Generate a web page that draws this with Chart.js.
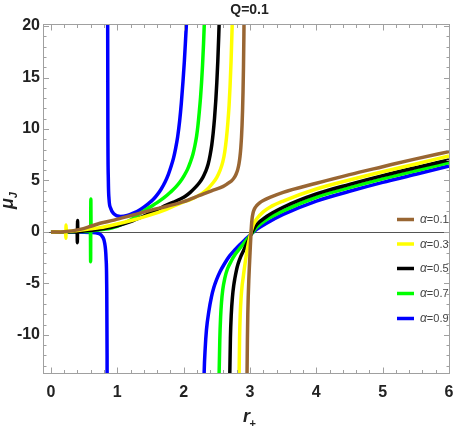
<!DOCTYPE html>
<html><head><meta charset="utf-8">
<script src="https://cdn.jsdelivr.net/npm/chart.js@4.4.0/dist/chart.umd.min.js"></script>
<style>html,body{margin:0;padding:0;background:#fff;}canvas{display:block;}</style>
</head><body>
<canvas id="c" width="459" height="432"></canvas>
<script>
// ---- data ----
const chartTitle = 'Q=0.1';
const seriesLabels = ['α=0.1', 'α=0.3', 'α=0.5', 'α=0.7', 'α=0.9'];
const seriesColors = ['#996633', '#ffff00', '#000000', '#00ff00', '#0000ff'];
const xTicks = [0, 1, 2, 3, 4, 5, 6];
const yTicks = [-10, -5, 0, 5, 10, 15, 20];

// alpha = 0.1
const r_a01  = [0, 0.2, 0.44, 0.6, 0.74, 0.95, 1.24, 1.5, 1.75, 2.0, 2.24, 2.42, 2.59, 2.66, 2.72, 2.76, 2.79, 2.815, 2.835, 2.85, 2.862, 2.872, 2.88, 2.888, 2.895, 2.902, 2.908, 2.912, 2.92,
                2.935,
                2.952, 2.956, 2.961, 2.967, 2.974, 2.982, 2.99, 2.998, 3.006, 3.014, 3.022, 3.032, 3.045, 3.065, 3.1, 3.15, 3.2, 3.3, 3.5, 4, 4.5, 5, 5.5, 6];
const mu_a01 = [0, 0.03, 0.25, 0.55, 0.84, 1.15, 1.65, 2.1, 2.5, 2.95, 3.55, 4.0, 4.4, 4.68, 4.95, 5.25, 5.6, 6.05, 6.65, 7.35, 8.2, 9.2, 10.3, 11.8, 13.6, 16, 19, 21.5, 27,
                null,
                -17, -13.7, -10.5, -8.0, -6.2, -4.7, -3.5, -2.4, -1.3, -0.3, 0.6, 1.3, 1.8, 2.2, 2.55, 2.85, 3.05, 3.35, 3.85, 4.73, 5.57, 6.34, 7.1, 7.8];
// alpha = 0.3
const r_a03  = [0, 0.15, 0.22, 0.225, 0.227, 0.232, 0.4, 0.6, 0.74, 0.95, 1.24, 1.5, 1.74, 1.99, 2.1, 2.2, 2.3, 2.38, 2.44, 2.5, 2.55, 2.59, 2.62, 2.645, 2.665, 2.685, 2.7, 2.715, 2.73, 2.74, 2.76,
                2.8,
                2.832, 2.836, 2.843, 2.853, 2.866, 2.88, 2.896, 2.912, 2.926, 2.94, 2.956, 2.975, 2.997, 3.02, 3.05, 3.1, 3.2, 3.3, 3.5, 4, 4.5, 5, 5.5, 6];
const mu_a03 = [0, 0.01, 0.02, -0.61, 0.68, 0.05, 0.15, 0.3, 0.42, 0.7, 1.16, 1.65, 2.2, 2.9, 3.15, 3.45, 3.85, 4.3, 4.75, 5.3, 6.0, 6.8, 7.8, 9.1, 10.5, 12.3, 14.2, 16.6, 19.7, 22, 28,
                null,
                -17, -13.7, -10.3, -8.0, -6.4, -5.3, -4.5, -3.7, -3.05, -2.45, -1.8, -1.15, -0.5, 0.1, 0.7, 1.25, 1.95, 2.4, 3.0, 4.17, 5.05, 5.85, 6.6, 7.38];
// alpha = 0.5
const r_a05  = [0, 0.2, 0.395, 0.398, 0.401, 0.405, 0.6, 0.8, 1.0, 1.2, 1.4, 1.6, 1.74, 1.85, 1.95, 2.02, 2.1, 2.18, 2.24, 2.29, 2.33, 2.37, 2.4, 2.425, 2.445, 2.465, 2.485, 2.5, 2.515, 2.53, 2.54, 2.56,
                2.62,
                2.69, 2.696, 2.705, 2.718, 2.736, 2.755, 2.771, 2.795, 2.821, 2.86, 2.907, 2.95, 2.98, 3.01, 3.05, 3.1, 3.25, 3.5, 4, 4.5, 5, 5.5, 6];
const mu_a05 = [0, 0.01, 0.03, -1.04, 1.1, 0.05, 0.15, 0.33, 0.6, 1.0, 1.55, 2.15, 2.6, 2.9, 3.2, 3.45, 3.85, 4.35, 4.8, 5.3, 5.85, 6.6, 7.5, 8.5, 9.6, 11, 12.8, 14.5, 16.6, 19.2, 21.2, 26,
                null,
                -17, -13.7, -10.3, -8.0, -6.3, -5.2, -4.55, -3.75, -3.1, -2.4, -1.75, -1.15, -0.75, -0.3, 0.2, 0.7, 1.5, 2.4, 3.69, 4.62, 5.47, 6.25, 7.0];
// alpha = 0.7
const r_a07  = [0, 0.3, 0.595, 0.598, 0.601, 0.605, 0.8, 1.0, 1.2, 1.3, 1.39, 1.5, 1.6, 1.7, 1.8, 1.88, 1.95, 2.01, 2.06, 2.1, 2.14, 2.17, 2.195, 2.215, 2.235, 2.255, 2.27, 2.285, 2.3, 2.315, 2.34,
                2.43,
                2.528, 2.535, 2.545, 2.557, 2.57, 2.59, 2.62, 2.66, 2.72, 2.78, 2.846, 2.92, 3.01, 3.1, 3.25, 3.5, 4, 4.5, 5, 5.5, 6];
const mu_a07 = [0, 0.02, 0.05, -2.9, 3.2, 0.12, 0.25, 0.55, 1.15, 1.6, 2.0, 2.45, 2.85, 3.3, 3.85, 4.35, 4.9, 5.5, 6.1, 6.75, 7.55, 8.4, 9.3, 10.3, 11.6, 13.1, 14.5, 16.2, 18.3, 20.8, 26,
                null,
                -17, -13.7, -10.5, -8.3, -6.9, -5.6, -4.5, -3.6, -2.8, -2.15, -1.6, -1.0, -0.3, 0.45, 1.2, 2.05, 3.37, 4.3, 5.15, 5.95, 6.73];
// alpha = 0.9
const r_a09  = [0, 0.3, 0.5, 0.6, 0.71, 0.78, 0.81, 0.83, 0.84, 0.846, 0.85,
                0.8515,
                0.853, 0.855, 0.858, 0.865, 0.875, 0.9, 0.95, 1.0, 1.05, 1.15, 1.25, 1.33, 1.4, 1.47, 1.54, 1.6, 1.66, 1.72, 1.77, 1.81, 1.85, 1.88, 1.91, 1.94, 1.965, 1.99, 2.01, 2.03, 2.045, 2.07,
                2.2,
                2.3, 2.309, 2.325, 2.344, 2.38, 2.42, 2.455, 2.495, 2.55, 2.62, 2.69, 2.771, 2.85, 2.922, 3.01, 3.1, 3.25, 3.5, 4, 4.5, 5, 5.5, 6];
const mu_a09 = [0, 0.0, -0.02, -0.05, -0.13, -0.5, -1.1, -2.5, -5, -12, -30,
                null,
                30, 20, 10, 5, 3.2, 2.3, 1.75, 1.55, 1.5, 1.6, 1.85, 2.1, 2.4, 2.75, 3.15, 3.6, 4.15, 4.85, 5.6, 6.35, 7.25, 8.15, 9.25, 10.8, 12.5, 14.6, 16.5, 18.8, 20.6, 24,
                null,
                -17, -13.7, -11.3, -9.5, -7.7, -6.28, -5.4, -4.66, -3.85, -3.04, -2.35, -1.75, -1.22, -0.78, -0.25, 0.25, 0.85, 1.7, 3.0, 3.95, 4.82, 5.6, 6.4];

const rSeries = [r_a01, r_a03, r_a05, r_a07, r_a09];
const muSeries = [mu_a01, mu_a03, mu_a05, mu_a07, mu_a09];

const datasets = seriesLabels.map((lab, i) => ({
  label: lab,
  data: rSeries[i].map((r, k) => ({x: r, y: muSeries[i][k]})),
  borderColor: seriesColors[i],
  backgroundColor: seriesColors[i],
  borderWidth: 3.5,
  pointRadius: 0,
  pointHoverRadius: 0,
  fill: false,
  spanGaps: false,
  cubicInterpolationMode: 'monotone',
  clip: 0
}));

const yTickFont = {family: "'Liberation Sans Narrow', 'Liberation Sans', sans-serif", weight: 'bold', size: 16};
const xTickFont = {family: "'Liberation Sans Narrow', 'Liberation Sans', sans-serif", weight: 'bold', size: 16, lineHeight: 2.3};

const decorPlugin = {
  id: 'decor',
  beforeDatasetsDraw(chart) {
    const {ctx, chartArea: a, scales: {y}} = chart;
    const y0 = Math.round(y.getPixelForValue(0)) + 0.5;
    ctx.save();
    ctx.strokeStyle = '#555555';
    ctx.lineWidth = 1;
    ctx.beginPath(); ctx.moveTo(a.left, y0); ctx.lineTo(a.right, y0); ctx.stroke();
    ctx.restore();
  },
  afterDatasetsDraw(chart) {
    const {ctx, chartArea: a, scales: {x, y}} = chart;
    ctx.save();
    ctx.strokeStyle = '#a0a0a0';
    ctx.lineWidth = 1;
    const L = Math.round(a.left) + 0.5, R = Math.round(a.right) - 0.5;
    const T = Math.round(a.top) + 0.5, B = Math.round(a.bottom) - 0.5;
    ctx.strokeRect(L, T, R - L, B - T);
    ctx.beginPath();
    for (let k = -1; k <= 31; k++) {
      const v = k * 0.2;
      if (v < x.min || v > x.max) continue;
      const px = Math.round(x.getPixelForValue(v)) + 0.5;
      const len = (k % 5 === 0) ? 6 : 3.5;
      ctx.moveTo(px, B); ctx.lineTo(px, B - len);
      ctx.moveTo(px, T); ctx.lineTo(px, T + len);
    }
    for (let k = -14; k <= 21; k++) {
      if (k < y.min || k > y.max) continue;
      const py = Math.round(y.getPixelForValue(k)) + 0.5;
      const len = (k % 5 === 0) ? 5.5 : 3;
      ctx.moveTo(L, py); ctx.lineTo(L + len, py);
      ctx.moveTo(R, py); ctx.lineTo(R - len, py);
    }
    ctx.stroke();
    ctx.restore();
  },
  afterDraw(chart) {
    const {ctx} = chart;
    ctx.save();
    // title
    ctx.fillStyle = '#222';
    ctx.font = "bold 14px 'Liberation Sans Narrow', 'Liberation Sans', sans-serif";
    ctx.textAlign = 'center'; ctx.textBaseline = 'middle';
    ctx.fillText(chartTitle, 249.5, 10.5);
    // x axis title r_+
    ctx.textAlign = 'left'; ctx.textBaseline = 'alphabetic';
    ctx.font = "italic bold 18px 'Liberation Sans', sans-serif";
    ctx.fillText('r', 243, 422);
    const rw = ctx.measureText('r').width;
    ctx.font = "bold 11px 'Liberation Sans', sans-serif";
    ctx.fillText('+', 243 + rw - 0.5, 427);
    // y axis title mu_J
    ctx.save();
    ctx.translate(13, 209);
    ctx.rotate(-Math.PI / 2);
    ctx.font = "italic bold 18px 'Liberation Sans', sans-serif";
    ctx.fillText('μ', 0, 0);
    const mw = ctx.measureText('μ').width;
    ctx.font = "italic bold 11px 'Liberation Sans', sans-serif";
    ctx.fillText('J', mw, 4);
    ctx.restore();
    // legend
    const rows = [219.5, 244, 268.5, 293.5, 318.5];
    chart.data.datasets.forEach((ds, i) => {
      const yy = rows[i];
      ctx.strokeStyle = ds.borderColor;
      ctx.lineWidth = 3.5;
      ctx.lineCap = 'butt';
      ctx.beginPath(); ctx.moveTo(397, yy); ctx.lineTo(414, yy); ctx.stroke();
      const parts = ds.label.split('=');
      ctx.fillStyle = '#444';
      ctx.textBaseline = 'middle';
      ctx.font = "italic 12px 'Liberation Sans Narrow', 'Liberation Sans', sans-serif";
      ctx.fillText(parts[0], 420, yy + 0.5);
      const aw = ctx.measureText(parts[0]).width;
      ctx.font = "11px 'Liberation Sans Narrow', 'Liberation Sans', sans-serif";
      ctx.fillText('=' + parts[1], 420 + aw, yy + 0.5);
    });
    ctx.restore();
  }
};

new Chart(document.getElementById('c'), {
  type: 'line',
  data: {datasets},
  options: {
    responsive: false,
    animation: false,
    devicePixelRatio: 1,
    layout: {padding: {top: 24, right: 9, left: 0, bottom: 0}, autoPadding: false},
    plugins: {legend: {display: false}, title: {display: false}, tooltip: {enabled: false}},
    events: [],
    scales: {
      x: {
        type: 'linear', min: -0.12, max: 6.015,
        grid: {display: false, drawTicks: false},
        border: {display: false},
        afterBuildTicks: s => { s.ticks = xTicks.map(v => ({value: v})); },
        afterFit: s => { s.height = 58; },
        ticks: {font: xTickFont, color: '#222', padding: 0, maxRotation: 0, autoSkip: false}
      },
      y: {
        type: 'linear', min: -13.8, max: 20.2,
        grid: {display: false, drawTicks: false},
        border: {display: false},
        afterBuildTicks: s => { s.ticks = yTicks.map(v => ({value: v})); },
        afterFit: s => { s.width = 43; },
        ticks: {font: yTickFont, color: '#222', padding: 3, autoSkip: false}
      }
    }
  },
  plugins: [decorPlugin]
});
</script>
</body></html>
